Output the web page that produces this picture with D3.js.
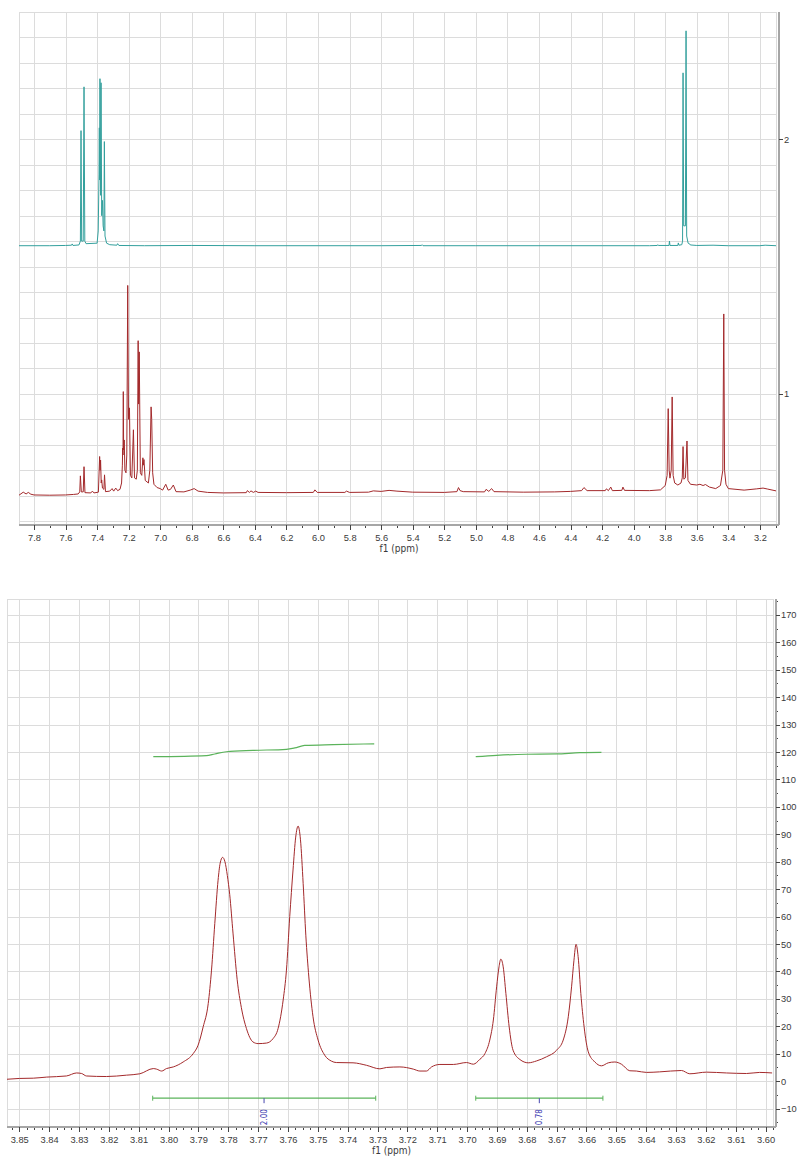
<!DOCTYPE html>
<html>
<head>
<meta charset="utf-8">
<script src="https://cdn.jsdelivr.net/npm/d3@7/dist/d3.min.js"></script>
<style>
  body { margin: 0; background: #fff; }
  svg { display: block; font-family: "DejaVu Sans Condensed", "DejaVu Sans", Verdana, sans-serif; }
  .grid line { stroke: #dcdcdc; stroke-width: 1; shape-rendering: crispEdges; }
  .frame { fill: none; stroke: #dcdcdc; stroke-width: 1; shape-rendering: crispEdges; }
  .axis text { fill: #3a3a3a; font-size: 9.3px; }
  .axis line { stroke: #444; shape-rendering: crispEdges; }
  .axis path { stroke: #a6a6a6; stroke-width: 2; shape-rendering: crispEdges; }
  .title { fill: #3a3a3a; font-size: 10px; }
</style>
</head>
<body>
<div id="main"></div>
<script>
'use strict';
// - - - - - - - - - -

// data: overview (two stacked 1H spectra, ppm / stack units)
const overviewXTicks = [7.8, 7.6, 7.4, 7.2, 7.0, 6.8, 6.6, 6.4, 6.2, 6.0, 5.8, 5.6, 5.4, 5.2, 5.0, 4.8, 4.6, 4.4, 4.2, 4.0, 3.8, 3.6, 3.4, 3.2];
const overviewYTicks = [1, 2];

const spectrumTeal = [
  [7.895, 1.582], [7.70, 1.582], [7.60, 1.583], [7.562, 1.584], [7.558, 1.589], [7.553, 1.583],
  [7.515, 1.585], [7.506, 1.600], [7.502, 2.034], [7.498, 1.600], [7.488, 1.600], [7.483, 2.206],
  [7.478, 1.600], [7.470, 1.590], [7.400, 1.592], [7.393, 1.640], [7.388, 1.860], [7.386, 2.045],
  [7.384, 1.840], [7.382, 2.238], [7.378, 1.780], [7.375, 2.222], [7.371, 1.700], [7.366, 1.760],
  [7.362, 1.660], [7.357, 1.640], [7.354, 1.991], [7.350, 1.620], [7.340, 1.592], [7.320, 1.586],
  [7.275, 1.584], [7.270, 1.590], [7.262, 1.583], [7.10, 1.582], [6.80, 1.583], [6.40, 1.582],
  [6.00, 1.582], [5.60, 1.582], [5.345, 1.583], [5.340, 1.586], [5.335, 1.582], [5.00, 1.582],
  [4.60, 1.582], [4.20, 1.582], [3.90, 1.582], [3.850, 1.583], [3.847, 1.586], [3.843, 1.583],
  [3.776, 1.583], [3.773, 1.600], [3.770, 1.583], [3.720, 1.583], [3.717, 1.593], [3.713, 1.584],
  [3.695, 1.586], [3.690, 1.600], [3.687, 2.261], [3.683, 1.660], [3.672, 1.660], [3.668, 2.426],
  [3.664, 1.620], [3.655, 1.592], [3.645, 1.589], [3.641, 1.585], [3.60, 1.583], [3.497, 1.584],
  [3.40, 1.582], [3.20, 1.582], [3.167, 1.584], [3.098, 1.582]
];

const spectrumRed = [
  [7.895, 0.602], [7.868, 0.614], [7.850, 0.607], [7.836, 0.613], [7.820, 0.606], [7.800, 0.603],
  [7.700, 0.602], [7.600, 0.603], [7.550, 0.605], [7.520, 0.607], [7.510, 0.615], [7.506, 0.678],
  [7.500, 0.615], [7.488, 0.615], [7.483, 0.714], [7.477, 0.612], [7.440, 0.611], [7.430, 0.618],
  [7.420, 0.611], [7.392, 0.614], [7.384, 0.754], [7.381, 0.700], [7.378, 0.740], [7.374, 0.650],
  [7.371, 0.662], [7.366, 0.630], [7.357, 0.625], [7.353, 0.682], [7.347, 0.616], [7.320, 0.618],
  [7.305, 0.628], [7.295, 0.618], [7.282, 0.630], [7.270, 0.620], [7.255, 0.625], [7.245, 0.650],
  [7.240, 0.720], [7.238, 0.787], [7.236, 0.760], [7.234, 1.009], [7.232, 0.780], [7.228, 0.819],
  [7.224, 0.700], [7.217, 0.690], [7.212, 0.760], [7.206, 1.426], [7.201, 0.900], [7.195, 0.945],
  [7.189, 0.680], [7.180, 0.670], [7.170, 0.859], [7.163, 0.670], [7.152, 0.665], [7.145, 0.700],
  [7.140, 1.209], [7.137, 0.960], [7.133, 1.165], [7.126, 0.690], [7.117, 0.680], [7.110, 0.749],
  [7.107, 0.720], [7.103, 0.742], [7.095, 0.660], [7.075, 0.650], [7.066, 0.700], [7.058, 0.949],
  [7.054, 0.900], [7.048, 0.690], [7.040, 0.645], [7.020, 0.632], [7.000, 0.628], [6.985, 0.622],
  [6.965, 0.645], [6.950, 0.622], [6.935, 0.625], [6.917, 0.642], [6.900, 0.616], [6.850, 0.615],
  [6.810, 0.622], [6.785, 0.628], [6.760, 0.618], [6.700, 0.613], [6.600, 0.611], [6.455, 0.612],
  [6.448, 0.620], [6.435, 0.613], [6.425, 0.619], [6.410, 0.613], [6.395, 0.618], [6.380, 0.613],
  [6.200, 0.612], [6.030, 0.613], [6.020, 0.623], [6.005, 0.613], [5.830, 0.613], [5.820, 0.618],
  [5.800, 0.613], [5.680, 0.614], [5.650, 0.619], [5.600, 0.617], [5.550, 0.621], [5.500, 0.618],
  [5.400, 0.614], [5.200, 0.613], [5.120, 0.616], [5.110, 0.632], [5.100, 0.620], [5.080, 0.616],
  [4.945, 0.615], [4.935, 0.625], [4.918, 0.617], [4.900, 0.628], [4.885, 0.616], [4.700, 0.614],
  [4.500, 0.615], [4.400, 0.617], [4.330, 0.620], [4.315, 0.632], [4.295, 0.620], [4.180, 0.620],
  [4.173, 0.627], [4.160, 0.620], [4.145, 0.634], [4.135, 0.620], [4.075, 0.621], [4.068, 0.634],
  [4.058, 0.621], [3.900, 0.620], [3.830, 0.623], [3.800, 0.640], [3.788, 0.680], [3.781, 0.942],
  [3.775, 0.700], [3.770, 0.669], [3.762, 0.700], [3.756, 0.988], [3.750, 0.680], [3.740, 0.650],
  [3.720, 0.642], [3.700, 0.650], [3.692, 0.670], [3.687, 0.793], [3.682, 0.665], [3.672, 0.670],
  [3.662, 0.815], [3.656, 0.660], [3.640, 0.645], [3.600, 0.642], [3.580, 0.645], [3.560, 0.640],
  [3.545, 0.644], [3.520, 0.634], [3.480, 0.628], [3.450, 0.640], [3.435, 0.700], [3.429, 1.314],
  [3.424, 0.700], [3.415, 0.645], [3.400, 0.628], [3.300, 0.622], [3.220, 0.627], [3.180, 0.630],
  [3.150, 0.626], [3.098, 0.619]
];

// data: detail (zoom of 3.60 - 3.85 ppm with integrals)
const detailXTicks = [3.85, 3.84, 3.83, 3.82, 3.81, 3.80, 3.79, 3.78, 3.77, 3.76, 3.75, 3.74, 3.73,
  3.72, 3.71, 3.70, 3.69, 3.68, 3.67, 3.66, 3.65, 3.64, 3.63, 3.62, 3.61, 3.60];
const detailYTicks = [-10, 0, 10, 20, 30, 40, 50, 60, 70, 80, 90, 100, 110, 120, 130, 140, 150, 160, 170];

const spectrumDetail = [
  [3.8542, 0.7], [3.8500, 1.0], [3.8453, 1.1], [3.8408, 1.5], [3.8342, 1.9], [3.8308, 3.0],
  [3.8291, 2.8], [3.8275, 1.9], [3.8208, 1.7], [3.8141, 2.2], [3.8096, 2.7], [3.8051, 4.6],
  [3.8040, 4.4], [3.8023, 3.7], [3.8007, 4.6], [3.7984, 5.2], [3.7951, 7.0], [3.7917, 10.1],
  [3.7901, 13.1], [3.7884, 19.8], [3.7867, 28.3], [3.7856, 40.5], [3.7845, 57.5], [3.7834, 73.3],
  [3.7827, 79.5], [3.7819, 81.6], [3.7811, 80.0], [3.7803, 75.0], [3.7795, 68.0], [3.7784, 54.0],
  [3.7770, 37.0], [3.7756, 26.8], [3.7739, 19.2], [3.7717, 14.3], [3.7700, 13.7], [3.7672, 13.9],
  [3.7650, 15.5], [3.7633, 19.2], [3.7616, 29.6], [3.7605, 40.5], [3.7594, 60.0], [3.7583, 77.0],
  [3.7574, 89.0], [3.7566, 93.0], [3.7558, 88.0], [3.7549, 72.0], [3.7540, 53.0], [3.7530, 38.0],
  [3.7516, 23.5], [3.7499, 15.0], [3.7477, 9.5], [3.7454, 7.3], [3.7438, 6.8], [3.7382, 6.7],
  [3.7337, 5.8], [3.7292, 4.5], [3.7270, 5.0], [3.7225, 5.2], [3.7180, 4.4], [3.7158, 3.7],
  [3.7136, 3.7], [3.7119, 5.2], [3.7091, 6.1], [3.7046, 6.1], [3.7002, 6.8], [3.6979, 6.2],
  [3.6957, 8.0], [3.6940, 10.1], [3.6924, 15.0], [3.6912, 22.3], [3.6901, 34.4], [3.6893, 41.7],
  [3.6887, 44.5], [3.6879, 41.7], [3.6870, 32.0], [3.6859, 19.8], [3.6846, 11.3], [3.6823, 7.9],
  [3.6795, 6.7], [3.6767, 7.4], [3.6734, 8.9], [3.6700, 11.3], [3.6678, 15.0], [3.6661, 23.5],
  [3.6650, 34.4], [3.6642, 44.1], [3.6635, 49.9], [3.6628, 45.4], [3.6619, 32.0], [3.6608, 19.8],
  [3.6594, 10.7], [3.6572, 7.0], [3.6550, 5.6], [3.6527, 6.7], [3.6505, 7.0], [3.6483, 6.2],
  [3.6455, 3.8], [3.6433, 3.7], [3.6399, 3.2], [3.6355, 3.4], [3.6282, 3.9], [3.6254, 2.7],
  [3.6198, 3.3], [3.6131, 3.0], [3.6064, 2.8], [3.6020, 3.2], [3.5978, 3.0]
];

const integralCurves = [
  [[3.8051, 118.3], [3.7873, 118.7], [3.7845, 119.3], [3.7806, 120.1], [3.7717, 120.6],
   [3.7605, 121.0], [3.7577, 121.5], [3.7544, 122.4], [3.7449, 122.7], [3.7311, 123.0]],
  [[3.6971, 118.3], [3.6901, 118.8], [3.6801, 119.2], [3.6700, 119.3], [3.6622, 119.8], [3.6550, 119.9]]
];
const integralFrom = [3.8053, 3.6971];
const integralTo = [3.7306, 3.6545];
const integralMark = [3.7680, 3.6758];
const integralLabels = ['2.00', '0.78'];
const integralLevel = -6.2;

// configuration
const canvas = { context: '#main', width: 799, height: 1157 };
const overview = {
  id: 'ov', left: 19, frameRight: 776, axisX: 779, top: 12, bottom: 525,
  domainX: [7.895, 3.098], domainY: [0.485, 2.5]
};
const detail = {
  id: 'dt', left: 7, frameRight: 772.5, axisX: 776, top: 599, bottom: 1127,
  domainX: [3.8541, 3.5977], domainY: [-16.7, 175.8]
};

let svg;

// methods
function setCanvas() {
  svg = d3.select(canvas.context)
    .append('svg')
    .attr('width', canvas.width)
    .attr('height', canvas.height);
}

function setPanel(p, gridX, gridY) {
  p.x = d3.scaleLinear().domain(p.domainX).range([p.left, p.frameRight]);
  p.y = d3.scaleLinear().domain(p.domainY).range([p.bottom, p.top]);

  svg.append('clipPath').attr('id', 'clip-' + p.id)
    .append('rect')
    .attr('x', p.left).attr('y', p.top)
    .attr('width', p.frameRight - p.left).attr('height', p.bottom - p.top);

  const grid = svg.append('g').attr('class', 'grid');
  grid.selectAll('.gx').data(gridX).enter().append('line')
    .attr('x1', d => Math.round(p.x(d)) + 0.5).attr('x2', d => Math.round(p.x(d)) + 0.5)
    .attr('y1', p.top).attr('y2', p.bottom);
  grid.selectAll('.gy').data(gridY).enter().append('line')
    .attr('y1', d => Math.round(p.y(d)) + 0.5).attr('y2', d => Math.round(p.y(d)) + 0.5)
    .attr('x1', p.left).attr('x2', p.frameRight);

  svg.append('rect').attr('class', 'frame')
    .attr('x', p.left + 0.5).attr('y', p.top + 0.5)
    .attr('width', p.frameRight - p.left).attr('height', p.bottom - p.top);
}

function setXAxis(p, majors, minors, fmt) {
  const g = svg.append('g').attr('class', 'axis')
    .attr('transform', 'translate(0,' + p.bottom + ')');
  g.call(d3.axisBottom(p.x).tickValues(minors).tickSize(3).tickFormat(''));
  g.select('.domain').remove();
  const gm = svg.append('g').attr('class', 'axis')
    .attr('transform', 'translate(0,' + p.bottom + ')');
  gm.call(d3.axisBottom(p.x).tickValues(majors).tickSize(5).tickSizeOuter(0).tickPadding(4).tickFormat(d3.format(fmt)));
  gm.select('.domain').attr('d', 'M' + p.left + ',0H' + p.axisX);

  svg.append('text').attr('class', 'title')
    .attr('x', (p.left + p.axisX) / 2).attr('y', p.bottom + 27)
    .attr('text-anchor', 'middle')
    .text('f1 (ppm)');
}

function setYAxis(p, majors, minors) {
  if (minors) {
    const g = svg.append('g').attr('class', 'axis')
      .attr('transform', 'translate(' + p.axisX + ',0)');
    g.call(d3.axisRight(p.y).tickValues(minors).tickSize(2).tickFormat(''));
    g.select('.domain').remove();
  }
  const gm = svg.append('g').attr('class', 'axis')
    .attr('transform', 'translate(' + p.axisX + ',0)');
  gm.call(d3.axisRight(p.y).tickValues(majors).tickSize(4).tickPadding(1).tickFormat(d3.format('d')));
  gm.select('.domain').attr('d', 'M0,' + p.top + 'V' + p.bottom);
}

function drawTrace(p, data, color, curve) {
  const line = d3.line()
    .x(d => p.x(d[0]))
    .y(d => p.y(d[1]))
    .curve(curve);
  svg.append('path')
    .datum(data)
    .attr('clip-path', 'url(#clip-' + p.id + ')')
    .attr('fill', 'none')
    .attr('stroke', color)
    .attr('stroke-width', 1)
    .attr('stroke-linejoin', 'round')
    .attr('d', line);
}

function drawIntegrals(p) {
  const g = svg.append('g').attr('clip-path', 'url(#clip-' + p.id + ')');
  integralCurves.forEach(c => {
    g.append('path').datum(c)
      .attr('fill', 'none').attr('stroke', '#5bb35b').attr('stroke-width', 1.2)
      .attr('d', d3.line().x(d => p.x(d[0])).y(d => p.y(d[1])).curve(d3.curveMonotoneX));
  });
  const yb = p.y(integralLevel);
  integralFrom.forEach((f, i) => {
    const x0 = p.x(f), x1 = p.x(integralTo[i]), xm = p.x(integralMark[i]);
    g.append('line').attr('x1', x0).attr('x2', x1).attr('y1', yb).attr('y2', yb)
      .attr('stroke', '#5bb35b').attr('stroke-width', 1.2);
    [x0, x1].forEach(xe => g.append('line')
      .attr('x1', xe).attr('x2', xe).attr('y1', yb - 2.5).attr('y2', yb + 2.5)
      .attr('stroke', '#5bb35b').attr('stroke-width', 1));
    g.append('line').attr('x1', xm).attr('x2', xm).attr('y1', yb).attr('y2', yb + 5)
      .attr('stroke', '#4848b0').attr('stroke-width', 1);
    g.append('text')
      .attr('transform', 'translate(' + (xm + 3) + ',' + (yb + 11) + ') rotate(-90)')
      .attr('text-anchor', 'end')
      .attr('fill', '#3c3cb0')
      .attr('font-size', '8px')
      .text(integralLabels[i]);
  });
}

// control
setCanvas();

setPanel(overview, overviewXTicks, d3.range(5, 26).map(d => d / 10));
drawTrace(overview, spectrumTeal, '#33a09d', d3.curveLinear);
drawTrace(overview, spectrumRed, '#a3292b', d3.curveLinear);
setXAxis(overview, overviewXTicks, d3.range(31, 79).map(d => d / 10), '.1f');
setYAxis(overview, overviewYTicks, null);

setPanel(detail, detailXTicks, detailYTicks);
drawIntegrals(detail);
drawTrace(detail, spectrumDetail, '#a3292b', d3.curveMonotoneX);
setXAxis(detail, detailXTicks, d3.range(7195, 7710, 5).map(d => d / 2000), '.2f');
setYAxis(detail, detailYTicks, d3.range(-15, 176, 5));

// - - - - - - - - - -
</script>
</body>
</html>
